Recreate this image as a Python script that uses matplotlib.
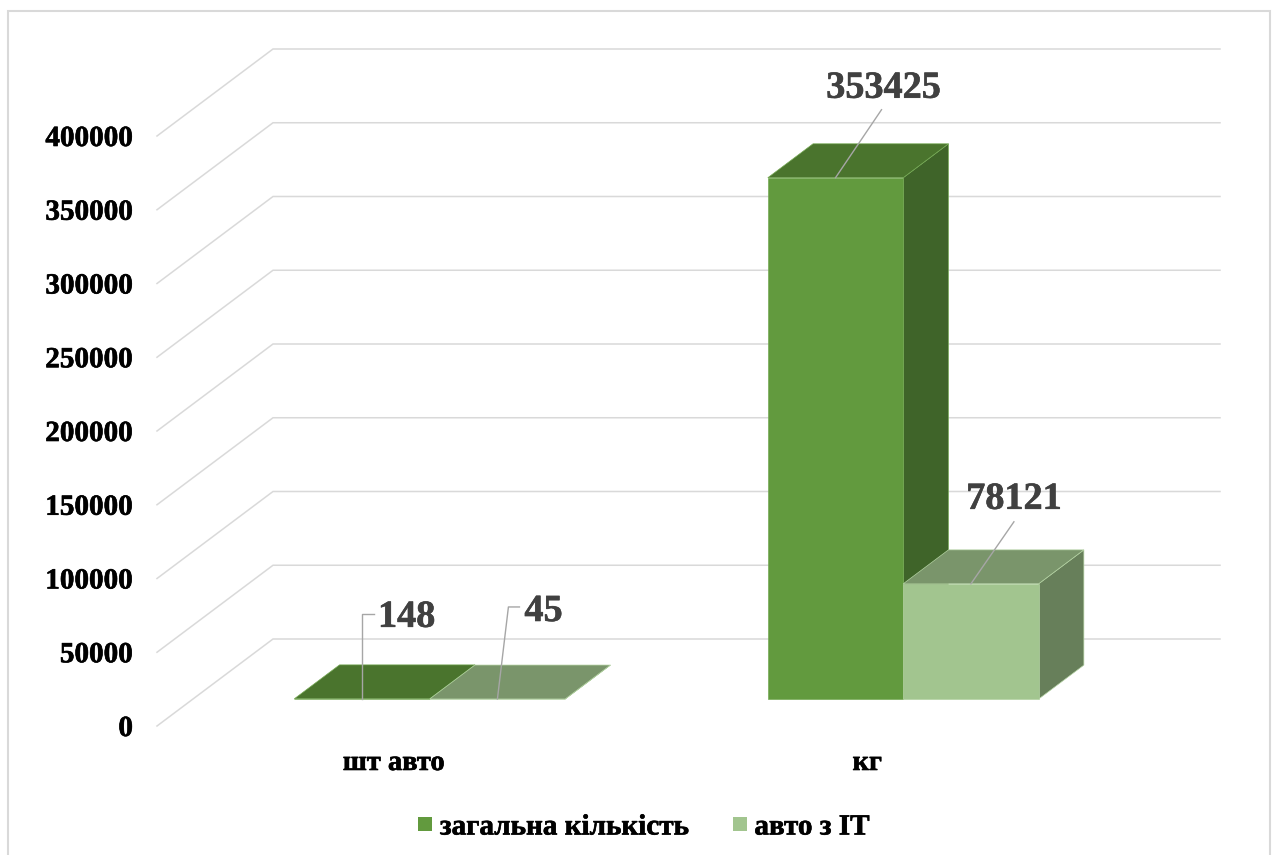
import matplotlib

matplotlib.use("Agg")

import matplotlib.patheffects as pe
import matplotlib.pyplot as plt
from matplotlib.lines import Line2D
from matplotlib.patches import Polygon, Rectangle

# --- data ---
categories = ["шт авто", "кг"]
series_names = ["загальна кількість", "авто з IT"]
total_values = [148, 353425]
it_values = [45, 78121]
y_ticks = [0, 50000, 100000, 150000, 200000, 250000, 300000, 350000, 400000]

# face colours per series: front, top, side
SERIES_COLORS = [
    ("#629A3E", "#4A742D", "#3F6429"),
    ("#A2C58F", "#7A956B", "#677F5A"),
]
EDGE_COLORS = ["#76AA55", "#B3D2A2"]
LABEL_COLOR = "#404040"
GRID_COLOR = "#D9D9D9"
FONT = "Liberation Serif"


def heavy(color):
    # thin outline in the text colour, makes the serif bold a bit heavier
    return [pe.withStroke(linewidth=0.45, foreground=color)]


# --- canvas / oblique box geometry (pixels) ---
W, H, DPI = 1274, 855, 100
FLOOR_LEFT_PX = 157      # x of the front-left corner of the floor
FLOOR_ZERO_PX = 726      # y of value 0 on the front edge
CAT_PX = 473.5           # width of one category slot
VAL_PX = 0.001475        # pixels per unit of value
DEPTH_PX = (116, -87)    # shift from front edge to back wall

GROUP_W = 0.572          # share of a slot taken by the bar group
BAR_W = GROUP_W / 2
D_FRONT, D_BACK = 0.31, 0.70   # bar depth inside the box

fig = plt.figure(figsize=(W / DPI, H / DPI), dpi=DPI)
ax = fig.add_axes([0, 0, 1, 1])
ax.set_xlim(-FLOOR_LEFT_PX / CAT_PX, (W - FLOOR_LEFT_PX) / CAT_PX)
ax.set_ylim(-(H - FLOOR_ZERO_PX) / VAL_PX, FLOOR_ZERO_PX / VAL_PX)
ax.axis("off")

DX = DEPTH_PX[0] / CAT_PX
DY = -DEPTH_PX[1] / VAL_PX


def proj(u, v, d):
    """Category/value/depth -> 2D data coords."""
    return (u + d * DX, v + d * DY)


def shift(pt, dx_px, dy_px):
    """Move a data point by a pixel offset (dy positive = down)."""
    return (pt[0] + dx_px / CAT_PX, pt[1] - dy_px / VAL_PX)


# outer chart border
fig.patches.append(
    Rectangle((7.5 / W, -0.02), (1270 - 7.5) / W, 1 - 11 / H + 0.02,
              transform=fig.transFigure, fill=False,
              edgecolor=GRID_COLOR, linewidth=1.5)
)

# gridlines on side wall + back wall
n_cat = len(categories)
for t in y_ticks:
    pts = [proj(0, t, 0), proj(0, t, 1), proj(n_cat, t, 1)]
    ax.plot([p[0] for p in pts], [p[1] for p in pts],
            color=GRID_COLOR, linewidth=1.1, zorder=1,
            solid_joinstyle="miter")
    base = shift(proj(0, t, 0), -24, 10)
    ax.text(base[0], base[1], f"{t}", ha="right", va="baseline",
            fontsize=21, fontweight="bold", family=FONT, color="black",
            path_effects=heavy("black"))

# category labels along the front edge
for i, cat in enumerate(categories):
    p = shift(proj(i + 0.5, 0, 0), 0, 44)
    ax.text(p[0], p[1], cat, ha="center", va="baseline",
            fontsize=20.5, fontweight="bold", family=FONT, color="black",
            path_effects=heavy("black"))

# bars
series = [total_values, it_values]
anchors = {}
for i in range(n_cat):
    for j, vals in enumerate(series):
        v = vals[i]
        x0 = i + (1 - GROUP_W) / 2 + j * BAR_W
        x1 = x0 + BAR_W
        front_c, top_c, side_c = SERIES_COLORS[j]
        front = [proj(x0, 0, D_FRONT), proj(x1, 0, D_FRONT),
                 proj(x1, v, D_FRONT), proj(x0, v, D_FRONT)]
        top = [proj(x0, v, D_FRONT), proj(x1, v, D_FRONT),
               proj(x1, v, D_BACK), proj(x0, v, D_BACK)]
        side = [proj(x1, 0, D_FRONT), proj(x1, v, D_FRONT),
                proj(x1, v, D_BACK), proj(x1, 0, D_BACK)]
        z = 2 + i * 2 + j
        for face, col in ((side, side_c), (top, top_c), (front, front_c)):
            ax.add_patch(Polygon(face, closed=True, facecolor=col,
                                 edgecolor=EDGE_COLORS[j], linewidth=0.5,
                                 zorder=z))
        anchors[(i, j)] = (proj((x0 + x1) / 2, v, D_FRONT), v)

# data labels with leader lines (pixel offsets from the bar's top-front edge)
label_layout = {
    (0, 0): dict(path=[(0, -85), (12, -85)], text=(16, -85), ha="left"),
    (0, 1): dict(path=[(11, -92), (22, -92)], text=(27, -91), ha="left"),
    (1, 0): dict(path=[(46, -68)], text=(48, -93), ha="center"),
    (1, 1): dict(path=[(43, -62)], text=(43, -88), ha="center"),
}
for key, (anchor, v) in anchors.items():
    lay = label_layout[key]
    pts = [anchor] + [shift(anchor, dx, dy) for dx, dy in lay["path"]]
    ax.plot([p[0] for p in pts], [p[1] for p in pts],
            color="#A6A6A6", linewidth=1.0, zorder=10)
    tx, ty = lay["text"]
    tp = shift(anchor, tx, ty + 13)
    ax.text(tp[0], tp[1], f"{v}", ha=lay["ha"], va="baseline",
            fontsize=27.5, fontweight="bold", family=FONT,
            color=LABEL_COLOR, zorder=11, path_effects=heavy(LABEL_COLOR))

# legend
handles = [
    Line2D([], [], marker="s", linestyle="none", markersize=10.5,
           markerfacecolor=SERIES_COLORS[j][0], markeredgewidth=0)
    for j in range(len(series_names))
]
leg = fig.legend(handles, series_names, loc="center",
                 bbox_to_anchor=(643 / W, 1 - 827 / H), ncol=2, frameon=False,
                 handlelength=0.6, handletextpad=0.2, columnspacing=1.45,
                 prop=dict(family=FONT, weight="bold", size=21))
for txt in leg.get_texts():
    txt.set_path_effects(heavy("black"))

fig.savefig("out.png", dpi=DPI)
